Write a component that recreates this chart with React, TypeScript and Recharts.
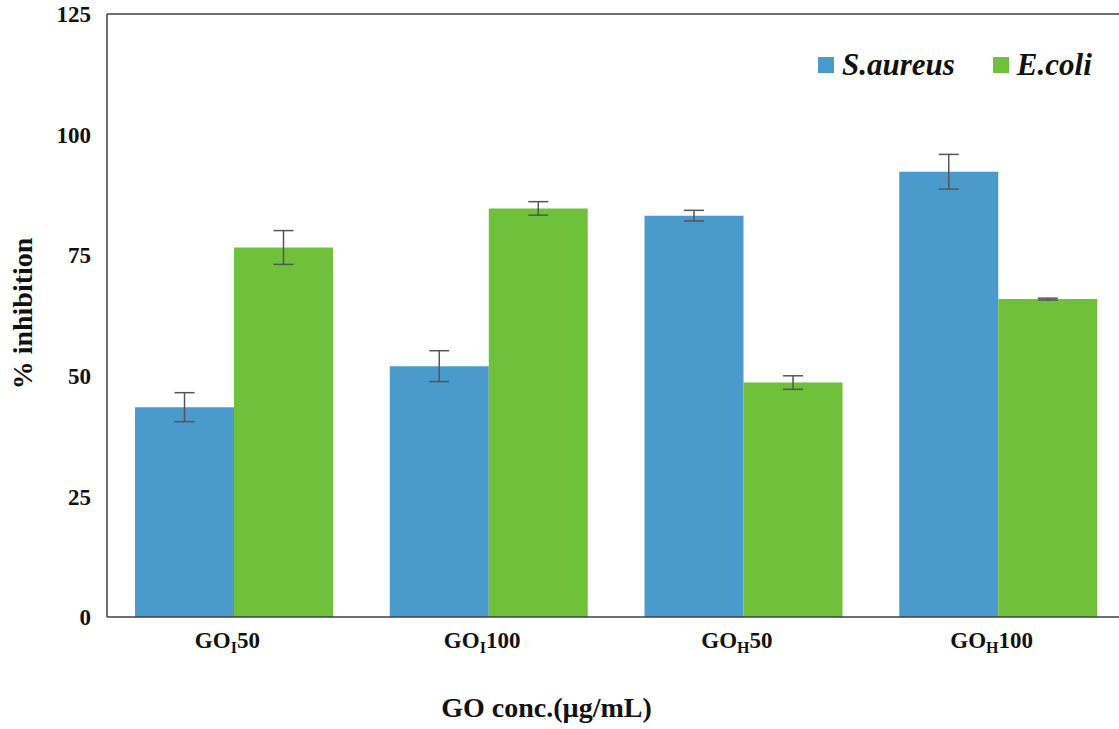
import React from 'react';
import { BarChart, Bar, XAxis, YAxis, ErrorBar, ReferenceLine, Legend } from 'recharts';

const categories = ['GOI50', 'GOI100', 'GOH50', 'GOH100'];
const tickPrefix = ['GO', 'GO', 'GO', 'GO'];
const tickSubscripts = ['I', 'I', 'H', 'H'];
const tickSuffix = ['50', '100', '50', '100'];
const seriesNames = ['S.aureus', 'E.coli'];
const seriesColors = ['#4A9BCB', '#6FC03A'];
const saureus = [43.5, 52.0, 83.2, 92.3];
const saureusErr = [3.0, 3.2, 1.1, 3.6];
const ecoli = [76.6, 84.7, 48.6, 65.9];
const ecoliErr = [3.5, 1.4, 1.4, 0.2];
const yTicks = [0, 25, 50, 75, 100, 125];
const yTitle = '% inhibition';
const xTitle = 'GO conc.(µg/mL)';

const data = categories.map((c, i) => ({
  name: c,
  sa: saureus[i],
  saErr: saureusErr[i],
  ec: ecoli[i],
  ecErr: ecoliErr[i],
}));

const FONT = "'Liberation Serif', 'Times New Roman', serif";
const AXIS = '#404040';

const XTick = (props: any) => {
  const { x, y, payload } = props;
  const i = categories.indexOf(payload.value);
  return (
    <text x={x - 7} y={y + 31} textAnchor="middle" fontFamily={FONT} fontWeight="bold" fontSize={23} fill="#111">
      {tickPrefix[i]}
      <tspan fontSize={16} dy={5}>{tickSubscripts[i]}</tspan>
      <tspan dy={-5}>{tickSuffix[i]}</tspan>
    </text>
  );
};

const YTitle = (props: any) => {
  const vb = props.viewBox || { x: 0, y: 14, width: 107, height: 603 };
  const cx = 22;
  const cy = vb.y + vb.height / 2 - 2;
  return (
    <text
      x={cx}
      y={cy}
      transform={`rotate(-90 ${cx} ${cy})`}
      textAnchor="middle"
      dominantBaseline="central"
      fontFamily={FONT}
      fontWeight="bold"
      fontSize={28}
      fill="#111"
    >
      {yTitle}
    </text>
  );
};

const XTitle = (props: any) => {
  const vb = props.viewBox || { x: 107, y: 617, width: 1019, height: 60 };
  const cx = vb.x + vb.width / 2 - 70;
  return (
    <text x={cx} y={717} textAnchor="middle" fontFamily={FONT} fontWeight="bold" fontSize={28} fill="#111">
      {xTitle}
    </text>
  );
};

const LegendContent = () => (
  <div style={{ display: 'flex', alignItems: 'center', height: 30, fontFamily: FONT, fontWeight: 'bold', fontStyle: 'italic', fontSize: 31, lineHeight: '30px', color: '#111', whiteSpace: 'nowrap' }}>
    {seriesNames.map((n, i) => (
      <div key={n} style={{ display: 'flex', alignItems: 'center', marginRight: i === 0 ? 38 : 0 }}>
        <span style={{ display: 'inline-block', width: 16, height: 16, background: seriesColors[i], marginRight: 8 }} />
        <span>{n}</span>
      </div>
    ))}
  </div>
);

export default function App() {
  return (
    <div style={{ position: 'absolute', left: 0, top: 0, width: 1119, height: 729, overflow: 'hidden', background: '#fff' }}>
      <BarChart
        width={1130}
        height={729}
        data={data}
        margin={{ top: 14, right: 4, bottom: 52, left: 0 }}
        barCategoryGap="11%"
        barGap={0}
      >
        <XAxis
          dataKey="name"
          height={60}
          tick={<XTick />}
          tickLine={false}
          tickSize={0}
          tickMargin={0}
          axisLine={{ stroke: AXIS, strokeWidth: 1.5 }}
          label={<XTitle />}
        />
        <YAxis
          width={107}
          domain={[0, 125]}
          ticks={yTicks}
          interval={0}
          tickLine={false}
          tickSize={0}
          tickMargin={16}
          axisLine={{ stroke: AXIS, strokeWidth: 1.5 }}
          tick={{ fontFamily: FONT, fontWeight: 'bold', fontSize: 23, fill: '#111' }}
          label={<YTitle />}
        />
        <ReferenceLine y={125} stroke={AXIS} strokeWidth={1.5} />
        <Legend
          layout="horizontal"
          verticalAlign="middle"
          align="center"
          content={<LegendContent />}
          wrapperStyle={{ position: 'absolute', top: 50, left: 818, width: 320 }}
        />
        <Bar dataKey="sa" name={seriesNames[0]} fill={seriesColors[0]} isAnimationActive={false}>
          <ErrorBar dataKey="saErr" width={10} stroke="#555" strokeWidth={1.5} />
        </Bar>
        <Bar dataKey="ec" name={seriesNames[1]} fill={seriesColors[1]} isAnimationActive={false}>
          <ErrorBar dataKey="ecErr" width={10} stroke="#555" strokeWidth={1.5} />
        </Bar>
      </BarChart>
    </div>
  );
}
